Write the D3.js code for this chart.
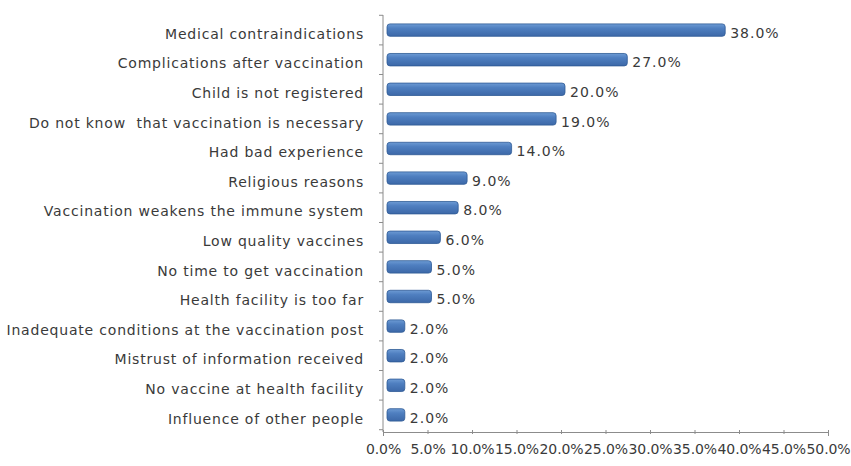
<!DOCTYPE html>
<html>
<head>
<meta charset="utf-8">
<script src="https://cdn.jsdelivr.net/npm/d3@7"></script>
<style>
  body { margin: 0; background: #fff; }
  svg text { font-family: "DejaVu Sans", "Noto Sans", sans-serif; white-space: pre; }
</style>
</head>
<body>
<svg id="chart" width="851" height="466"></svg>
<script>
// Reasons for not vaccinating, share of respondents (%)
const categories = [
  "Medical contraindications",
  "Complications after vaccination",
  "Child is not registered",
  "Do not know  that vaccination is necessary",
  "Had bad experience",
  "Religious reasons",
  "Vaccination weakens the immune system",
  "Low quality vaccines",
  "No time to get vaccination",
  "Health facility is too far",
  "Inadequate conditions at the vaccination post",
  "Mistrust of information received",
  "No vaccine at health facility",
  "Influence of other people"
];
const values = [38, 27, 20, 19, 14, 9, 8, 6, 5, 5, 2, 2, 2, 2];
const tickValues = [0, 5, 10, 15, 20, 25, 30, 35, 40, 45, 50];

const svg = d3.select("#chart");
const depth = 4; // 3D offset of bars from the floor

const x = d3.scaleLinear().domain([0, 50]).range([383, 828]);
const y = d3.scaleBand().domain(categories).range([15, 430]).paddingInner(0.58).paddingOuter(0.3);

const defs = svg.append("defs");
const grad = defs.append("linearGradient").attr("id", "barGrad")
  .attr("x1", 0).attr("y1", 0).attr("x2", 0).attr("y2", 1);
grad.append("stop").attr("offset", "0%").attr("stop-color", "#6d9bd4");
grad.append("stop").attr("offset", "35%").attr("stop-color", "#4f7fc0");
grad.append("stop").attr("offset", "100%").attr("stop-color", "#3c68a8");

// value axis along the bottom
const xAxis = d3.axisBottom(x).tickValues(tickValues)
  .tickFormat(d => d.toFixed(1) + "%").tickSizeOuter(0).tickSize(4);
const gx = svg.append("g").attr("transform", "translate(0,432)").call(xAxis);
gx.select(".domain").attr("stroke", "#8c8c8c");
gx.selectAll(".tick line").attr("stroke", "#8c8c8c").attr("transform", "translate(0,-2)");
gx.selectAll(".tick text").attr("fill", "#3a3a3a").attr("font-size", 14)
  .attr("dy", "1.1em").attr("letter-spacing", -0.1);

// category axis on the left
const yAxis = d3.axisLeft(y).tickSize(0).tickPadding(19);
const gy = svg.append("g").attr("transform", `translate(${x(0)},0)`).call(yAxis);
gy.select(".domain").attr("stroke", "#8c8c8c").attr("d", "M0,432V15");
gy.selectAll(".tick text").attr("fill", "#3a3a3a").attr("font-size", 14)
  .attr("dy", "0.62em").attr("letter-spacing", 0.8);

// tick marks between categories
const step = y.step();
svg.append("g").selectAll("line")
  .data(d3.range(categories.length + 1))
  .join("line")
  .attr("x1", x(0) - 4).attr("x2", x(0))
  .attr("y1", i => y(categories[0]) - y.paddingInner() * step / 2 + i * step)
  .attr("y2", i => y(categories[0]) - y.paddingInner() * step / 2 + i * step)
  .attr("stroke", "#8c8c8c");

// bars
svg.append("g").selectAll("rect")
  .data(categories)
  .join("rect")
  .attr("x", x(0) + depth)
  .attr("y", d => y(d))
  .attr("width", (d, i) => x(values[i]) - x(0))
  .attr("height", y.bandwidth())
  .attr("rx", 3)
  .attr("fill", "url(#barGrad)")
  .attr("stroke", "#2f5a96")
  .attr("stroke-width", 0.8);

// value labels
svg.append("g").selectAll("text")
  .data(categories)
  .join("text")
  .attr("x", (d, i) => x(values[i]) + depth + 5)
  .attr("y", d => y(d) + y.bandwidth() / 2)
  .attr("dy", "0.55em")
  .attr("font-size", 14)
  .attr("letter-spacing", 1)
  .attr("fill", "#3a3a3a")
  .text((d, i) => values[i].toFixed(1) + "%");
</script>
</body>
</html>
